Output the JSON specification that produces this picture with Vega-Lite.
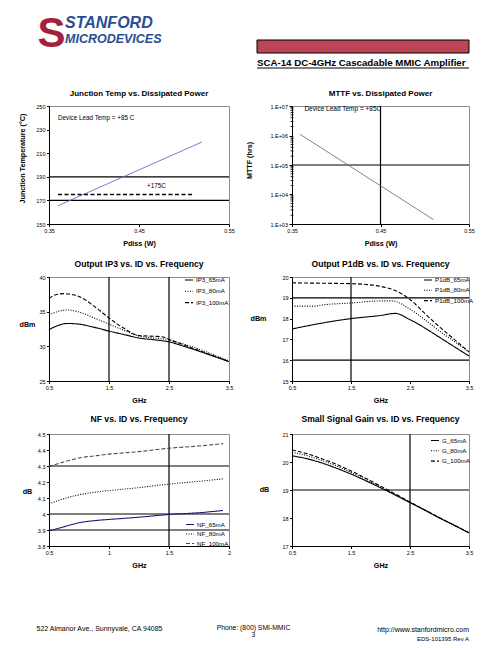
{
"$schema": "https://vega.github.io/schema/vega-lite/v6.json",
"background": "white",
"padding": {"left": 17, "top": 12, "right": 0, "bottom": 0},
"columns": 2,
"align": "none",
"bounds": "flush",
"spacing": {"row": 53, "column": 63},
"resolve": {"scale": {"strokeDash": "independent", "color": "independent"}, "legend": {"strokeDash": "independent", "color": "independent"}},
"config": {
 "font": "Liberation Sans",
 "view": {"stroke": "#8c8c8c", "strokeWidth": 1},
 "axis": {"grid": false, "domainColor": "#000", "domainWidth": 1, "tickColor": "#000", "tickWidth": 1, "tickSize": 2.5, "labelFontSize": 5.5, "labelColor": "#000", "labelPadding": 1.5, "labelFlush": false, "labelOverlap": false, "labelBound": false, "titleFontSize": 7.2, "titleFontWeight": "bold", "titleColor": "#000", "titlePadding": 6},
 "title": {"fontSize": 8.6, "fontWeight": "bold", "color": "#000", "offset": 6, "frame": "group", "anchor": "middle"},
 "legend": {"symbolType": "stroke", "symbolSize": 64, "symbolStrokeWidth": 1.2, "labelFontSize": 6.2, "labelColor": "#000", "labelOffset": 2, "rowPadding": 1.3, "padding": 0},
 "line": {"strokeWidth": 1.1},
 "rule": {"color": "#000", "strokeWidth": 1.2},
 "text": {"fontSize": 6.3, "color": "#000"}
},
"concat": [
 {
  "width": 180, "height": 13,
  "view": {"stroke": null},
  "title": {"text": "STANFORD", "subtitle": "MICRODEVICES", "orient": "top", "anchor": "start", "frame": "group", "dx": 16, "offset": -33, "fontSize": 16, "fontStyle": "italic", "fontWeight": "bold", "color": "#284e93", "font": "Liberation Sans", "subtitleFont": "Liberation Sans", "subtitleFontSize": 12.5, "subtitleFontStyle": "italic", "subtitleFontWeight": "bold", "subtitleColor": "#284e93", "subtitlePadding": 2},
  "data": {"values": [{}]},
  "mark": {"type": "point", "opacity": 0},
  "encoding": {
   "y": {"datum": 0.5, "type": "quantitative", "scale": {"domain": [0, 1]}, "axis": {"orient": "left", "domain": false, "ticks": false, "labels": false, "title": "S", "titleAngle": 0, "titleX": -12, "titleY": 6, "titleAlign": "left", "titleBaseline": "alphabetic", "titleFontSize": 42, "titleFontWeight": "bold", "titleColor": "#a3213d", "titleFont": "Liberation Sans"}}
  }
 },
 {
  "width": 177, "height": 13,
  "view": {"stroke": null},
  "title": {"text": "SCA-14 DC-4GHz Cascadable MMIC Amplifier", "orient": "bottom", "anchor": "start", "frame": "group", "dx": -35, "offset": -10.5, "fontSize": 9.7, "fontWeight": "bold", "color": "#000"},
  "data": {"values": [{}]},
  "encoding": {
   "x": {"datum": 0, "type": "quantitative", "scale": {"domain": [0, 1], "nice": false, "zero": false}, "axis": null},
   "x2": {"datum": 1}
  },
  "layer": [
   {"mark": {"type": "rect", "fill": "#bb4455", "stroke": "#000", "strokeWidth": 1, "xOffset": -35},
    "encoding": {"y": {"datum": 0, "type": "quantitative", "scale": {"domain": [0, 1], "nice": false, "zero": false}, "axis": null}, "y2": {"datum": 1}}},
   {"mark": {"type": "rule", "color": "#000", "strokeWidth": 1, "xOffset": -35, "yOffset": 15},
    "encoding": {"y": {"datum": 0, "type": "quantitative", "axis": null}}}
  ]
 },
 {
  "width": 180, "height": 118,
  "title": {"text": "Junction Temp vs. Dissipated Power", "fontSize": 8, "offset": 6},
  "layer": [
   {"data": {"values": [{"v": 170}, {"v": 190}]}, "mark": {"type": "rule"},
    "encoding": {"y": {"field": "v", "type": "quantitative", "scale": {"domain": [150, 250], "nice": false, "zero": false}, "axis": {"values": [150, 170, 190, 210, 230, 250], "labelOverlap": false, "title": "Junction Temperature (°C)", "titleX": -27, "titleY": 52, "titleAlign": "center", "titleBaseline": "middle"}}}},
   {"data": {"values": [{"f": 0.36, "v": 165.5}, {"f": 0.52, "v": 219.5}]}, "mark": {"type": "line", "color": "#6b6bd0", "strokeWidth": 0.9},
    "encoding": {"x": {"field": "f", "type": "quantitative", "scale": {"domain": [0.35, 0.55], "nice": false, "zero": false}, "axis": {"values": [0.35, 0.45, 0.55], "labelOverlap": false, "title": "Pdiss (W)"}},
                 "y": {"field": "v", "type": "quantitative", "axis": {"values": [150, 170, 190, 210, 230, 250], "labelOverlap": false, "title": "Junction Temperature (°C)", "titleX": -27, "titleY": 52, "titleAlign": "center", "titleBaseline": "middle"}}}},
   {"data": {"values": [{"f": 0.36, "v": 175}, {"f": 0.51, "v": 175}]}, "mark": {"type": "line", "color": "#000", "strokeWidth": 1.3, "strokeDash": [4, 2.5]},
    "encoding": {"x": {"field": "f", "type": "quantitative", "axis": {"values": [0.35, 0.45, 0.55], "labelOverlap": false, "title": "Pdiss (W)"}},
                 "y": {"field": "v", "type": "quantitative", "axis": {"values": [150, 170, 190, 210, 230, 250], "labelOverlap": false, "title": "Junction Temperature (°C)", "titleX": -27, "titleY": 52, "titleAlign": "center", "titleBaseline": "middle"}}}},
   {"data": {"values": [{"f": 0.459, "v": 182, "label": "+175C"}, {"f": 0.36, "v": 239.5, "label": "Device Lead Temp = +85 C"}]}, "mark": {"type": "text", "align": "left", "baseline": "middle"},
    "encoding": {"x": {"field": "f", "type": "quantitative", "axis": {"values": [0.35, 0.45, 0.55], "labelOverlap": false, "title": "Pdiss (W)"}},
                 "y": {"field": "v", "type": "quantitative", "axis": {"values": [150, 170, 190, 210, 230, 250], "labelOverlap": false, "title": "Junction Temperature (°C)", "titleX": -27, "titleY": 52, "titleAlign": "center", "titleBaseline": "middle"}},
                 "text": {"field": "label"}}}
  ]
 },
 {
  "width": 177, "height": 118,
  "title": {"text": "MTTF vs. Dissipated Power", "fontSize": 8, "offset": 6},
  "layer": [
   {"data": {"values": [{"v": 100000}]}, "mark": {"type": "rule"},
    "encoding": {"y": {"field": "v", "type": "quantitative", "scale": {"type": "log", "domain": [1000, 10000000], "nice": false}, "axis": {"values": [1000, 10000, 100000, 1000000, 10000000], "labelOverlap": false, "labelExpr": "'1.E+0' + round(log(datum.value) / LN10)", "tickSize": 3, "title": "MTTF (hrs)", "titleX": -43, "titleY": 54, "titleAlign": "center", "titleBaseline": "middle"}}}},
   {"data": {"values": [{"f": 0.45}]}, "mark": {"type": "rule"},
    "encoding": {"x": {"field": "f", "type": "quantitative", "scale": {"domain": [0.35, 0.55], "nice": false, "zero": false}, "axis": {"values": [0.35, 0.45, 0.55], "labelOverlap": false, "title": "Pdiss (W)"}}}},
   {"data": {"values": [{"v": 2000}, {"v": 3000}, {"v": 4000}, {"v": 5000}, {"v": 6000}, {"v": 7000}, {"v": 8000}, {"v": 9000}, {"v": 20000}, {"v": 30000}, {"v": 40000}, {"v": 50000}, {"v": 60000}, {"v": 70000}, {"v": 80000}, {"v": 90000}, {"v": 200000}, {"v": 300000}, {"v": 400000}, {"v": 500000}, {"v": 600000}, {"v": 700000}, {"v": 800000}, {"v": 900000}, {"v": 2000000}, {"v": 3000000}, {"v": 4000000}, {"v": 5000000}, {"v": 6000000}, {"v": 7000000}, {"v": 8000000}, {"v": 9000000}]},
    "mark": {"type": "tick", "orient": "horizontal", "size": 3, "thickness": 0.8, "color": "#000", "opacity": 1},
    "encoding": {"x": {"datum": 0.35, "type": "quantitative", "axis": {"values": [0.35, 0.45, 0.55], "labelOverlap": false, "title": "Pdiss (W)"}},
                 "y": {"field": "v", "type": "quantitative", "axis": {"values": [1000, 10000, 100000, 1000000, 10000000], "labelOverlap": false, "labelExpr": "'1.E+0' + round(log(datum.value) / LN10)", "tickSize": 3, "title": "MTTF (hrs)", "titleX": -43, "titleY": 54, "titleAlign": "center", "titleBaseline": "middle"}}}},
   {"data": {"values": [{"f": 0.359, "v": 1100000}, {"f": 0.51, "v": 1400}]}, "mark": {"type": "line", "color": "#666", "strokeWidth": 0.8},
    "encoding": {"x": {"field": "f", "type": "quantitative", "axis": {"values": [0.35, 0.45, 0.55], "labelOverlap": false, "title": "Pdiss (W)"}},
                 "y": {"field": "v", "type": "quantitative", "axis": {"values": [1000, 10000, 100000, 1000000, 10000000], "labelOverlap": false, "labelExpr": "'1.E+0' + round(log(datum.value) / LN10)", "tickSize": 3, "title": "MTTF (hrs)", "titleX": -43, "titleY": 54, "titleAlign": "center", "titleBaseline": "middle"}}}},
   {"data": {"values": [{"f": 0.364, "v": 8200000, "label": "Device Lead Temp = +85C"}]}, "mark": {"type": "text", "align": "left", "baseline": "middle", "fontSize": 6.5},
    "encoding": {"x": {"field": "f", "type": "quantitative", "axis": {"values": [0.35, 0.45, 0.55], "labelOverlap": false, "title": "Pdiss (W)"}},
                 "y": {"field": "v", "type": "quantitative", "axis": {"values": [1000, 10000, 100000, 1000000, 10000000], "labelOverlap": false, "labelExpr": "'1.E+0' + round(log(datum.value) / LN10)", "tickSize": 3, "title": "MTTF (hrs)", "titleX": -43, "titleY": 54, "titleAlign": "center", "titleBaseline": "middle"}},
                 "text": {"field": "label"}}}
  ]
 },
 {
  "width": 180, "height": 104,
  "title": {"text": "Output IP3 vs. ID vs. Frequency", "offset": 6},
  "layer": [
   {"data": {"values": [{"f": 1.5}, {"f": 2.5}]}, "mark": {"type": "rule"},
    "encoding": {"x": {"field": "f", "type": "quantitative", "scale": {"domain": [0.5, 3.5], "nice": false, "zero": false}, "axis": {"values": [0.5, 1.5, 2.5, 3.5], "labelOverlap": false, "format": ".1f", "title": "GHz"}}}},
   {"data": {"values": [
     {"s": "IP3_65mA", "f": 0.5, "v": 32.4}, {"s": "IP3_65mA", "f": 0.65, "v": 33.0}, {"s": "IP3_65mA", "f": 0.8, "v": 33.3}, {"s": "IP3_65mA", "f": 1.0, "v": 33.2}, {"s": "IP3_65mA", "f": 1.25, "v": 32.75}, {"s": "IP3_65mA", "f": 1.5, "v": 32.2}, {"s": "IP3_65mA", "f": 1.75, "v": 31.7}, {"s": "IP3_65mA", "f": 2.0, "v": 31.2}, {"s": "IP3_65mA", "f": 2.25, "v": 30.95}, {"s": "IP3_65mA", "f": 2.5, "v": 30.65}, {"s": "IP3_65mA", "f": 2.75, "v": 30.0}, {"s": "IP3_65mA", "f": 3.0, "v": 29.3}, {"s": "IP3_65mA", "f": 3.25, "v": 28.55}, {"s": "IP3_65mA", "f": 3.5, "v": 27.8},
     {"s": "IP3_80mA", "f": 0.5, "v": 34.5}, {"s": "IP3_80mA", "f": 0.65, "v": 35.05}, {"s": "IP3_80mA", "f": 0.8, "v": 35.25}, {"s": "IP3_80mA", "f": 1.0, "v": 34.95}, {"s": "IP3_80mA", "f": 1.25, "v": 34.1}, {"s": "IP3_80mA", "f": 1.5, "v": 33.2}, {"s": "IP3_80mA", "f": 1.75, "v": 32.3}, {"s": "IP3_80mA", "f": 2.0, "v": 31.5}, {"s": "IP3_80mA", "f": 2.25, "v": 31.2}, {"s": "IP3_80mA", "f": 2.5, "v": 30.95}, {"s": "IP3_80mA", "f": 2.75, "v": 30.3}, {"s": "IP3_80mA", "f": 3.0, "v": 29.6}, {"s": "IP3_80mA", "f": 3.25, "v": 28.75}, {"s": "IP3_80mA", "f": 3.5, "v": 27.9},
     {"s": "IP3_100mA", "f": 0.5, "v": 36.9}, {"s": "IP3_100mA", "f": 0.6, "v": 37.4}, {"s": "IP3_100mA", "f": 0.75, "v": 37.6}, {"s": "IP3_100mA", "f": 0.9, "v": 37.45}, {"s": "IP3_100mA", "f": 1.0, "v": 37.2}, {"s": "IP3_100mA", "f": 1.25, "v": 35.8}, {"s": "IP3_100mA", "f": 1.5, "v": 34.1}, {"s": "IP3_100mA", "f": 1.75, "v": 32.6}, {"s": "IP3_100mA", "f": 2.0, "v": 31.55}, {"s": "IP3_100mA", "f": 2.25, "v": 31.45}, {"s": "IP3_100mA", "f": 2.4, "v": 31.35}, {"s": "IP3_100mA", "f": 2.5, "v": 31.0}, {"s": "IP3_100mA", "f": 2.75, "v": 30.2}, {"s": "IP3_100mA", "f": 3.0, "v": 29.4}, {"s": "IP3_100mA", "f": 3.25, "v": 28.6}, {"s": "IP3_100mA", "f": 3.5, "v": 27.8}
    ]},
    "mark": {"type": "line", "color": "#000", "interpolate": "monotone"},
    "encoding": {
     "x": {"field": "f", "type": "quantitative", "axis": {"values": [0.5, 1.5, 2.5, 3.5], "labelOverlap": false, "format": ".1f", "title": "GHz"}},
     "y": {"field": "v", "type": "quantitative", "scale": {"domain": [25, 40], "nice": false, "zero": false}, "axis": {"values": [25, 30, 35, 40], "labelOverlap": false, "title": "dBm", "titleAngle": 0, "titleX": -22, "titleY": 47, "titleAlign": "center", "titleBaseline": "middle"}},
     "strokeDash": {"field": "s", "type": "nominal", "scale": {"domain": ["IP3_65mA", "IP3_80mA", "IP3_100mA"], "range": [[1, 0], [1, 1.5], [4, 2]]}, "legend": {"title": null, "orient": "none", "legendX": 135, "legendY": -2, "rowPadding": 2.3}}
    }}
  ]
 },
 {
  "width": 177, "height": 104,
  "title": {"text": "Output P1dB vs. ID vs. Frequency", "offset": 6},
  "layer": [
   {"data": {"values": [{"v": 19}, {"v": 16}]}, "mark": {"type": "rule"},
    "encoding": {"y": {"field": "v", "type": "quantitative", "scale": {"domain": [15, 20], "nice": false, "zero": false}, "axis": {"values": [15, 16, 17, 18, 19, 20], "labelOverlap": false, "title": "dBm", "titleAngle": 0, "titleX": -34, "titleY": 41, "titleAlign": "center", "titleBaseline": "middle"}}}},
   {"data": {"values": [{"f": 1.5}]}, "mark": {"type": "rule"},
    "encoding": {"x": {"field": "f", "type": "quantitative", "scale": {"domain": [0.5, 3.5], "nice": false, "zero": false}, "axis": {"values": [0.5, 1.5, 2.5, 3.5], "labelOverlap": false, "format": ".1f", "title": "GHz"}}}},
   {"data": {"values": [
     {"s": "P1dB_65mA", "f": 0.5, "v": 17.5}, {"s": "P1dB_65mA", "f": 1.0, "v": 17.78}, {"s": "P1dB_65mA", "f": 1.5, "v": 18.0}, {"s": "P1dB_65mA", "f": 2.0, "v": 18.15}, {"s": "P1dB_65mA", "f": 2.25, "v": 18.25}, {"s": "P1dB_65mA", "f": 2.5, "v": 17.95}, {"s": "P1dB_65mA", "f": 2.75, "v": 17.55}, {"s": "P1dB_65mA", "f": 3.0, "v": 17.1}, {"s": "P1dB_65mA", "f": 3.25, "v": 16.65}, {"s": "P1dB_65mA", "f": 3.5, "v": 16.2},
     {"s": "P1dB_80mA", "f": 0.5, "v": 18.6}, {"s": "P1dB_80mA", "f": 0.9, "v": 18.6}, {"s": "P1dB_80mA", "f": 1.0, "v": 18.65}, {"s": "P1dB_80mA", "f": 1.5, "v": 18.75}, {"s": "P1dB_80mA", "f": 2.0, "v": 18.85}, {"s": "P1dB_80mA", "f": 2.2, "v": 18.85}, {"s": "P1dB_80mA", "f": 2.5, "v": 18.45}, {"s": "P1dB_80mA", "f": 2.75, "v": 17.95}, {"s": "P1dB_80mA", "f": 3.0, "v": 17.4}, {"s": "P1dB_80mA", "f": 3.25, "v": 16.9}, {"s": "P1dB_80mA", "f": 3.5, "v": 16.4},
     {"s": "P1dB_100mA", "f": 0.5, "v": 19.72}, {"s": "P1dB_100mA", "f": 1.0, "v": 19.7}, {"s": "P1dB_100mA", "f": 1.5, "v": 19.68}, {"s": "P1dB_100mA", "f": 2.0, "v": 19.55}, {"s": "P1dB_100mA", "f": 2.25, "v": 19.35}, {"s": "P1dB_100mA", "f": 2.5, "v": 18.92}, {"s": "P1dB_100mA", "f": 2.75, "v": 18.25}, {"s": "P1dB_100mA", "f": 3.0, "v": 17.6}, {"s": "P1dB_100mA", "f": 3.25, "v": 17.0}, {"s": "P1dB_100mA", "f": 3.5, "v": 16.4}
    ]},
    "mark": {"type": "line", "color": "#000", "interpolate": "monotone"},
    "encoding": {
     "x": {"field": "f", "type": "quantitative", "axis": {"values": [0.5, 1.5, 2.5, 3.5], "labelOverlap": false, "format": ".1f", "title": "GHz"}},
     "y": {"field": "v", "type": "quantitative", "axis": {"values": [15, 16, 17, 18, 19, 20], "labelOverlap": false, "title": "dBm", "titleAngle": 0, "titleX": -34, "titleY": 41, "titleAlign": "center", "titleBaseline": "middle"}},
     "strokeDash": {"field": "s", "type": "nominal", "scale": {"domain": ["P1dB_65mA", "P1dB_80mA", "P1dB_100mA"], "range": [[1, 0], [1, 1.5], [4, 2]]}, "legend": {"title": null, "orient": "none", "legendX": 131, "legendY": -2}}
    }}
  ]
 },
 {
  "width": 180, "height": 112,
  "title": {"text": "NF vs. ID vs. Frequency", "offset": 8.5},
  "layer": [
   {"data": {"values": [{"v": 3.9}, {"v": 4.0}, {"v": 4.3}]}, "mark": {"type": "rule"},
    "encoding": {"y": {"field": "v", "type": "quantitative", "scale": {"domain": [3.8, 4.5], "nice": false, "zero": false}, "axis": {"values": [3.8, 3.9, 4, 4.1, 4.2, 4.3, 4.4, 4.5], "format": "~g", "labelOverlap": false, "title": "dB", "titleAngle": 0, "titleX": -22, "titleY": 57, "titleAlign": "center", "titleBaseline": "middle"}}}},
   {"data": {"values": [{"f": 1.5}]}, "mark": {"type": "rule"},
    "encoding": {"x": {"field": "f", "type": "quantitative", "scale": {"domain": [0.5, 2], "nice": false, "zero": false}, "axis": {"values": [0.5, 1, 1.5, 2], "format": "~g", "labelOverlap": false, "title": "GHz"}}}},
   {"data": {"values": [
     {"s": "NF_65mA", "f": 0.5, "v": 3.893}, {"s": "NF_65mA", "f": 0.6, "v": 3.915}, {"s": "NF_65mA", "f": 0.75, "v": 3.945}, {"s": "NF_65mA", "f": 0.9, "v": 3.96}, {"s": "NF_65mA", "f": 1.0, "v": 3.966}, {"s": "NF_65mA", "f": 1.25, "v": 3.98}, {"s": "NF_65mA", "f": 1.5, "v": 3.997}, {"s": "NF_65mA", "f": 1.75, "v": 4.008}, {"s": "NF_65mA", "f": 1.95, "v": 4.022},
     {"s": "NF_80mA", "f": 0.5, "v": 4.063}, {"s": "NF_80mA", "f": 0.6, "v": 4.09}, {"s": "NF_80mA", "f": 0.75, "v": 4.12}, {"s": "NF_80mA", "f": 0.9, "v": 4.138}, {"s": "NF_80mA", "f": 1.0, "v": 4.146}, {"s": "NF_80mA", "f": 1.25, "v": 4.165}, {"s": "NF_80mA", "f": 1.5, "v": 4.187}, {"s": "NF_80mA", "f": 1.75, "v": 4.204}, {"s": "NF_80mA", "f": 1.95, "v": 4.22},
     {"s": "NF_100mA", "f": 0.5, "v": 4.297}, {"s": "NF_100mA", "f": 0.6, "v": 4.32}, {"s": "NF_100mA", "f": 0.75, "v": 4.35}, {"s": "NF_100mA", "f": 0.9, "v": 4.365}, {"s": "NF_100mA", "f": 1.0, "v": 4.374}, {"s": "NF_100mA", "f": 1.25, "v": 4.39}, {"s": "NF_100mA", "f": 1.5, "v": 4.411}, {"s": "NF_100mA", "f": 1.75, "v": 4.425}, {"s": "NF_100mA", "f": 1.95, "v": 4.44}
    ]},
    "mark": {"type": "line", "interpolate": "monotone"},
    "encoding": {
     "x": {"field": "f", "type": "quantitative", "axis": {"values": [0.5, 1, 1.5, 2], "format": "~g", "labelOverlap": false, "title": "GHz"}},
     "y": {"field": "v", "type": "quantitative", "axis": {"values": [3.8, 3.9, 4, 4.1, 4.2, 4.3, 4.4, 4.5], "format": "~g", "labelOverlap": false, "title": "dB", "titleAngle": 0, "titleX": -22, "titleY": 57, "titleAlign": "center", "titleBaseline": "middle"}},
     "color": {"field": "s", "type": "nominal", "scale": {"domain": ["NF_65mA", "NF_80mA", "NF_100mA"], "range": ["#1c1c78", "#000000", "#4a4a4a"]}, "legend": {"title": null, "orient": "none", "legendX": 136, "legendY": 85.5, "rowPadding": 0.5}},
     "strokeDash": {"field": "s", "type": "nominal", "scale": {"domain": ["NF_65mA", "NF_80mA", "NF_100mA"], "range": [[1, 0], [1, 1.5], [4, 2]]}, "legend": {"title": null, "orient": "none", "legendX": 136, "legendY": 85.5, "rowPadding": 0.5}}
    }}
  ]
 },
 {
  "width": 177, "height": 112,
  "title": {"text": "Small Signal Gain vs. ID vs. Frequency", "offset": 8.5},
  "layer": [
   {"data": {"values": [{"v": 19}]}, "mark": {"type": "rule"},
    "encoding": {"y": {"field": "v", "type": "quantitative", "scale": {"domain": [17, 21], "nice": false, "zero": false}, "axis": {"values": [17, 18, 19, 20, 21], "labelOverlap": false, "title": "dB", "titleAngle": 0, "titleX": -28, "titleY": 55, "titleAlign": "center", "titleBaseline": "middle"}}}},
   {"data": {"values": [{"f": 2.5}]}, "mark": {"type": "rule"},
    "encoding": {"x": {"field": "f", "type": "quantitative", "scale": {"domain": [0.5, 3.5], "nice": false, "zero": false}, "axis": {"values": [0.5, 1.5, 2.5, 3.5], "labelOverlap": false, "format": ".1f", "title": "GHz"}}}},
   {"data": {"values": [
     {"s": "G_65mA", "f": 0.5, "v": 20.22}, {"s": "G_65mA", "f": 0.75, "v": 20.12}, {"s": "G_65mA", "f": 1.0, "v": 19.97}, {"s": "G_65mA", "f": 1.25, "v": 19.78}, {"s": "G_65mA", "f": 1.5, "v": 19.57}, {"s": "G_65mA", "f": 1.75, "v": 19.33}, {"s": "G_65mA", "f": 2.0, "v": 19.08}, {"s": "G_65mA", "f": 2.25, "v": 18.82}, {"s": "G_65mA", "f": 2.5, "v": 18.55}, {"s": "G_65mA", "f": 2.75, "v": 18.28}, {"s": "G_65mA", "f": 3.0, "v": 18.0}, {"s": "G_65mA", "f": 3.25, "v": 17.74}, {"s": "G_65mA", "f": 3.5, "v": 17.47},
     {"s": "G_80mA", "f": 0.5, "v": 20.35}, {"s": "G_80mA", "f": 0.75, "v": 20.23}, {"s": "G_80mA", "f": 1.0, "v": 20.06}, {"s": "G_80mA", "f": 1.25, "v": 19.86}, {"s": "G_80mA", "f": 1.5, "v": 19.63}, {"s": "G_80mA", "f": 1.75, "v": 19.38}, {"s": "G_80mA", "f": 2.0, "v": 19.11}, {"s": "G_80mA", "f": 2.25, "v": 18.84}, {"s": "G_80mA", "f": 2.5, "v": 18.56}, {"s": "G_80mA", "f": 2.75, "v": 18.29}, {"s": "G_80mA", "f": 3.0, "v": 18.01}, {"s": "G_80mA", "f": 3.25, "v": 17.74}, {"s": "G_80mA", "f": 3.5, "v": 17.47},
     {"s": "G_100mA", "f": 0.5, "v": 20.43}, {"s": "G_100mA", "f": 0.75, "v": 20.3}, {"s": "G_100mA", "f": 1.0, "v": 20.12}, {"s": "G_100mA", "f": 1.25, "v": 19.92}, {"s": "G_100mA", "f": 1.5, "v": 19.68}, {"s": "G_100mA", "f": 1.75, "v": 19.42}, {"s": "G_100mA", "f": 2.0, "v": 19.14}, {"s": "G_100mA", "f": 2.25, "v": 18.86}, {"s": "G_100mA", "f": 2.5, "v": 18.57}, {"s": "G_100mA", "f": 2.75, "v": 18.29}, {"s": "G_100mA", "f": 3.0, "v": 18.01}, {"s": "G_100mA", "f": 3.25, "v": 17.74}, {"s": "G_100mA", "f": 3.5, "v": 17.47}
    ]},
    "mark": {"type": "line", "color": "#000", "interpolate": "monotone"},
    "encoding": {
     "x": {"field": "f", "type": "quantitative", "axis": {"values": [0.5, 1.5, 2.5, 3.5], "labelOverlap": false, "format": ".1f", "title": "GHz"}},
     "y": {"field": "v", "type": "quantitative", "axis": {"values": [17, 18, 19, 20, 21], "labelOverlap": false, "title": "dB", "titleAngle": 0, "titleX": -28, "titleY": 55, "titleAlign": "center", "titleBaseline": "middle"}},
     "strokeDash": {"field": "s", "type": "nominal", "scale": {"domain": ["G_65mA", "G_80mA", "G_100mA"], "range": [[1, 0], [1, 1.5], [4, 2]]}, "legend": {"title": null, "orient": "none", "legendX": 138, "legendY": 1.5}}
    }}
  ]
 },
 {
  "width": 180, "height": 20,
  "view": {"stroke": null},
  "title": {"text": "http://www.stanfordmicro.com", "subtitle": "EDS-101395 Rev A", "orient": "top", "anchor": "end", "frame": "group", "dx": 240, "offset": -43, "fontSize": 7, "fontWeight": "normal", "color": "#000", "subtitleFontSize": 6, "subtitleColor": "#000", "subtitlePadding": 3},
  "data": {"values": [{}]},
  "mark": {"type": "point", "opacity": 0},
  "encoding": {
   "x": {"datum": 0.5, "type": "quantitative", "scale": {"domain": [0, 1]}, "axis": {"domain": false, "ticks": false, "labels": false, "title": "522 Almanor Ave., Sunnyvale, CA 94085", "titleX": -13, "titleY": 9.3, "titleAlign": "left", "titleAnchor": "start", "titleBaseline": "middle", "titleFontSize": 7, "titleFontWeight": "normal"}},
   "y": {"datum": 0.5, "type": "quantitative", "scale": {"domain": [0, 1]}, "axis": {"domain": false, "ticks": false, "labels": false, "title": ["Phone: (800) SMI-MMIC", "3"], "titleAngle": 0, "titleX": 204, "titleY": 25.9, "titleAlign": "center", "titleBaseline": "top", "titleLineHeight": 7, "titleFontSize": 6.8, "titleFontWeight": "normal"}}
  }
 }
]
}
